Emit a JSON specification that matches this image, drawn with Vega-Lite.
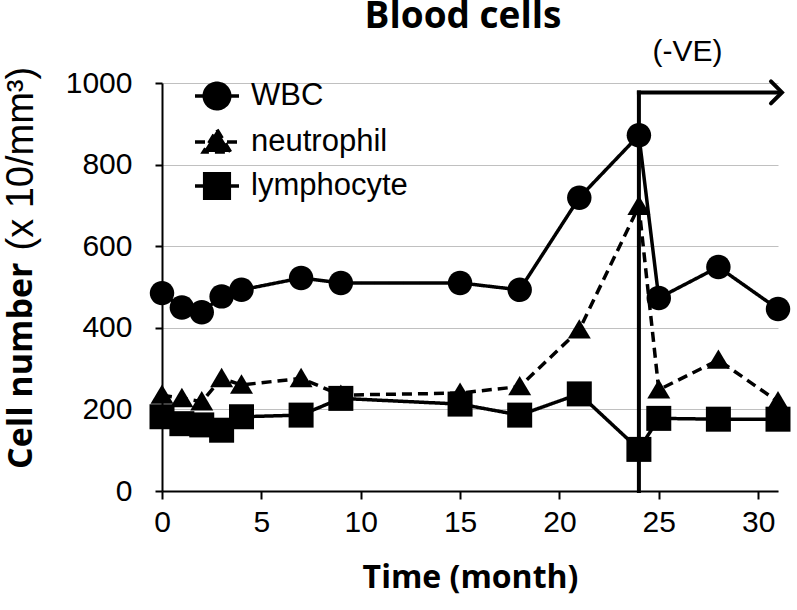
{
  "$schema": "https://vega.github.io/schema/vega-lite/v6.json",
  "width": 616,
  "height": 408,
  "autosize": {"type": "none"},
  "padding": {"left": 162, "top": 83, "right": 19, "bottom": 119},
  "background": "white",
  "title": {"text": "Blood cells", "font": "Open Sans", "fontSize": 37, "fontWeight": "bold", "anchor": "middle", "offset": 1, "dx": -7, "color": "black"},
  "config": {
    "view": {"stroke": null},
    "axis": {
      "domainColor": "black", "domainWidth": 2, "tickColor": "black", "tickWidth": 2, "tickSize": 8,
      "labelFont": "Liberation Sans", "labelFontSize": 30, "labelColor": "black",
      "titleFont": "Open Sans", "titleFontWeight": "bold", "titleFontSize": 32, "titleColor": "black",
      "gridColor": "#c0c0c0", "gridWidth": 1
    }
  },
  "datasets": {
    "cells": [
      {"month": 0, "count": 485, "series": "WBC"},
      {"month": 1, "count": 450, "series": "WBC"},
      {"month": 2, "count": 438, "series": "WBC"},
      {"month": 3, "count": 477, "series": "WBC"},
      {"month": 4, "count": 493, "series": "WBC"},
      {"month": 7, "count": 522, "series": "WBC"},
      {"month": 9, "count": 510, "series": "WBC"},
      {"month": 15, "count": 510, "series": "WBC"},
      {"month": 18, "count": 493, "series": "WBC"},
      {"month": 21, "count": 719, "series": "WBC"},
      {"month": 24, "count": 872, "series": "WBC"},
      {"month": 25, "count": 473, "series": "WBC"},
      {"month": 28, "count": 549, "series": "WBC"},
      {"month": 31, "count": 446, "series": "WBC"},
      {"month": 0, "count": 235, "series": "neutrophil"},
      {"month": 1, "count": 227, "series": "neutrophil"},
      {"month": 2, "count": 219, "series": "neutrophil"},
      {"month": 3, "count": 276, "series": "neutrophil"},
      {"month": 4, "count": 260, "series": "neutrophil"},
      {"month": 7, "count": 276, "series": "neutrophil"},
      {"month": 9, "count": 235, "series": "neutrophil"},
      {"month": 15, "count": 240, "series": "neutrophil"},
      {"month": 18, "count": 256, "series": "neutrophil"},
      {"month": 21, "count": 395, "series": "neutrophil"},
      {"month": 24, "count": 698, "series": "neutrophil"},
      {"month": 25, "count": 248, "series": "neutrophil"},
      {"month": 28, "count": 321, "series": "neutrophil"},
      {"month": 31, "count": 219, "series": "neutrophil"},
      {"month": 0, "count": 182, "series": "lymphocyte"},
      {"month": 1, "count": 165, "series": "lymphocyte"},
      {"month": 2, "count": 162, "series": "lymphocyte"},
      {"month": 3, "count": 149, "series": "lymphocyte"},
      {"month": 4, "count": 182, "series": "lymphocyte"},
      {"month": 7, "count": 186, "series": "lymphocyte"},
      {"month": 9, "count": 227, "series": "lymphocyte"},
      {"month": 15, "count": 213, "series": "lymphocyte"},
      {"month": 18, "count": 186, "series": "lymphocyte"},
      {"month": 21, "count": 238, "series": "lymphocyte"},
      {"month": 24, "count": 102, "series": "lymphocyte"},
      {"month": 25, "count": 178, "series": "lymphocyte"},
      {"month": 28, "count": 176, "series": "lymphocyte"},
      {"month": 31, "count": 176, "series": "lymphocyte"}
    ],
    "vline": [{"month": 24, "from": 0, "to": 977}],
    "hline": [{"from": 24, "to": 31.1, "count": 977}],
    "head": [{"month": 31.2, "count": 977}],
    "label": [{"month": 26.45, "count": 1076, "text": "(-VE)"}]
  },
  "layer": [
    {
      "layer": [
        {
          "data": {"name": "cells"},
          "mark": {"type": "line", "color": "black", "strokeWidth": 3.5},
          "encoding": {
            "x": {"field": "month", "type": "quantitative", "scale": {"domain": [0, 31], "nice": false},
              "axis": {"values": [0, 5, 10, 15, 20, 25, 30], "grid": false, "labelFlush": false, "labelPadding": 8, "title": "Time (month)", "titleBaseline": "alphabetic", "titleY": 96}},
            "y": {"field": "count", "type": "quantitative", "scale": {"domain": [0, 1000], "nice": false},
              "axis": {"values": [0, 200, 400, 600, 800, 1000], "format": "d", "grid": true, "tickSize": 7, "labelPadding": 23, "title": "Cell number", "titleFontSize": 34, "titleAngle": -90, "titleAlign": "right", "titleBaseline": "middle", "titleX": -141, "titleY": 179}},
            "strokeDash": {"field": "series", "type": "nominal", "sort": null,
              "scale": {"domain": ["WBC", "neutrophil", "lymphocyte"], "range": [[1, 0], [10, 6], [1, 0]]},
              "legend": {"orient": "none", "legendX": 31, "legendY": -11, "title": null, "labelFont": "Liberation Sans", "labelFontSize": 31, "labelColor": "black", "symbolSize": 1936, "symbolStrokeWidth": 3.5, "symbolStrokeColor": "black", "rowPadding": 2, "labelOffset": 10, "padding": 0,
                "encoding": {"symbols": {
                  "shape": {"value": {"expr": "datum.value === 'WBC' ? 'M -1 0 L 1 0 M 0.58 0 A 0.58 0.58 0 1 0 -0.58 0 A 0.58 0.58 0 1 0 0.58 0 Z' : datum.value === 'neutrophil' ? 'M -1 0 L 1 0 M 0 -0.56 L 0.62 0.46 L -0.62 0.46 Z' : 'M -1 0 L 1 0 M -0.56 -0.56 L 0.56 -0.56 L 0.56 0.56 L -0.56 0.56 Z'"}},
                  "fill": {"value": "black"}, "stroke": {"value": "black"}, "strokeWidth": {"value": 3.5}, "size": {"value": 1936}, "opacity": {"value": 1}, "fillOpacity": {"value": 1}
                }}}}
          }
        },
        {
          "data": {"name": "cells"},
          "transform": [{"filter": "datum.series === 'WBC'"}],
          "mark": {"type": "point", "filled": true, "color": "black", "opacity": 1, "size": 650, "shape": "M 0.96 0 A 0.96 0.96 0 1 1 -0.96 0 A 0.96 0.96 0 1 1 0.96 0 Z"},
          "encoding": {
            "x": {"field": "month", "type": "quantitative", "scale": {"domain": [0, 31], "nice": false}},
            "y": {"field": "count", "type": "quantitative", "scale": {"domain": [0, 1000], "nice": false}}
          }
        },
        {
          "data": {"name": "cells"},
          "transform": [{"filter": "datum.series === 'neutrophil'"}],
          "mark": {"type": "point", "filled": true, "color": "black", "opacity": 1, "size": 625, "shape": "M 0 -0.85 L 0.92 0.7 L -0.92 0.7 Z"},
          "encoding": {
            "x": {"field": "month", "type": "quantitative", "scale": {"domain": [0, 31], "nice": false}},
            "y": {"field": "count", "type": "quantitative", "scale": {"domain": [0, 1000], "nice": false}}
          }
        },
        {
          "data": {"name": "cells"},
          "transform": [{"filter": "datum.series === 'lymphocyte'"}],
          "mark": {"type": "point", "filled": true, "color": "black", "opacity": 1, "size": 625, "shape": "M -1 -1 L 1 -1 L 1 1 L -1 1 Z"},
          "encoding": {
            "x": {"field": "month", "type": "quantitative", "scale": {"domain": [0, 31], "nice": false}},
            "y": {"field": "count", "type": "quantitative", "scale": {"domain": [0, 1000], "nice": false}}
          }
        },
        {
          "data": {"name": "vline"},
          "mark": {"type": "rule", "color": "black", "strokeWidth": 4, "strokeCap": "square"},
          "encoding": {
            "x": {"field": "month", "type": "quantitative", "scale": {"domain": [0, 31], "nice": false}},
            "y": {"field": "from", "type": "quantitative", "scale": {"domain": [0, 1000], "nice": false}},
            "y2": {"field": "to"}
          }
        },
        {
          "data": {"name": "hline"},
          "mark": {"type": "rule", "color": "black", "strokeWidth": 4, "strokeCap": "square"},
          "encoding": {
            "x": {"field": "from", "type": "quantitative", "scale": {"domain": [0, 31], "nice": false}},
            "x2": {"field": "to"},
            "y": {"field": "count", "type": "quantitative", "scale": {"domain": [0, 1000], "nice": false}}
          }
        },
        {
          "data": {"name": "head"},
          "mark": {"type": "point", "shape": "M -1 -1 L 0 0 L -1 1", "filled": false, "stroke": "black", "strokeWidth": 4, "size": 484, "opacity": 1, "strokeCap": "round"},
          "encoding": {
            "x": {"field": "month", "type": "quantitative", "scale": {"domain": [0, 31], "nice": false}},
            "y": {"field": "count", "type": "quantitative", "scale": {"domain": [0, 1000], "nice": false}}
          }
        },
        {
          "data": {"name": "label"},
          "mark": {"type": "text", "font": "Liberation Sans", "fontSize": 30, "color": "black", "align": "center", "baseline": "middle"},
          "encoding": {
            "x": {"field": "month", "type": "quantitative", "scale": {"domain": [0, 31], "nice": false}},
            "y": {"field": "count", "type": "quantitative", "scale": {"domain": [0, 1000], "nice": false}},
            "text": {"field": "text"}
          }
        }
      ]
    },
    {
      "data": {"values": [{"v": 0}]},
      "mark": {"type": "rule", "opacity": 0},
      "encoding": {
        "y": {"field": "v", "type": "quantitative", "scale": {"domain": [0, 1000], "nice": false},
          "axis": {"orient": "left", "labels": false, "ticks": false, "domain": false, "grid": false, "title": "(x 10/mm³)", "titleFont": "Liberation Sans", "titleFontWeight": "normal", "titleFontSize": 38, "titleAngle": -90, "titleAlign": "left", "titleBaseline": "middle", "titleX": -141, "titleY": 167}}
      }
    }
  ],
  "resolve": {"scale": {"y": "independent"}}
}
